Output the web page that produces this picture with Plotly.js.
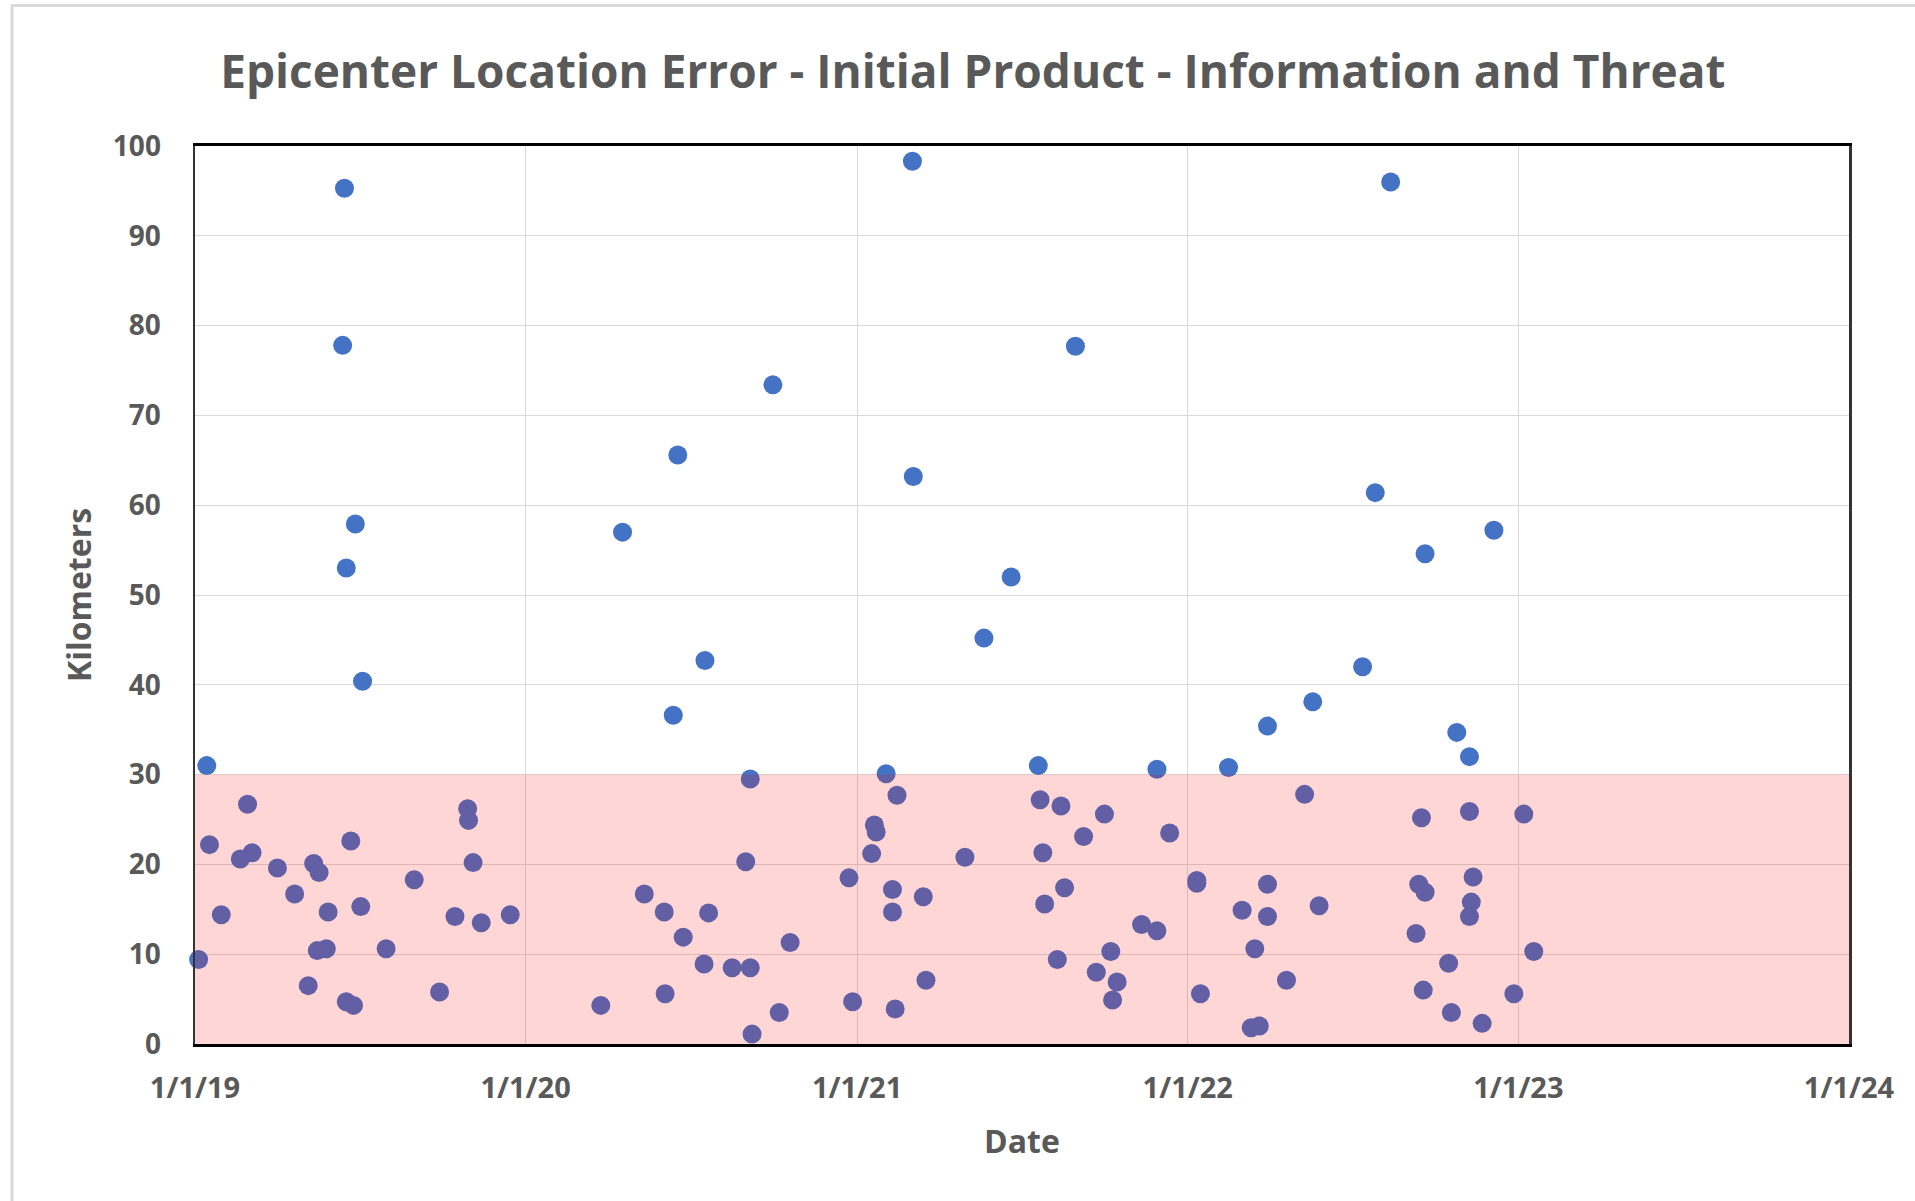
<!DOCTYPE html>
<html>
<head>
<meta charset="utf-8">
<script src="https://cdn.plot.ly/plotly-3.0.1.min.js"></script>
<style>
  html, body { margin: 0; padding: 0; background: #ffffff; }
  #chart { width: 1915px; height: 1201px; }
</style>
</head>
<body>
<div id="chart"></div>
<script>
// ---- Data ----
const eventDates = [
  "2019-01-05","2019-01-14","2019-01-17","2019-01-30","2019-02-20","2019-02-28","2019-03-05","2019-04-02",
  "2019-04-21","2019-05-06","2019-05-12","2019-05-16","2019-05-18","2019-05-26","2019-05-28","2019-06-13",
  "2019-06-15","2019-06-17","2019-06-17","2019-06-22","2019-06-25","2019-06-27","2019-07-03","2019-07-05",
  "2019-07-31","2019-08-31","2019-09-28","2019-10-15","2019-10-29","2019-10-30","2019-11-04","2019-11-13",
  "2019-12-15",
  "2020-03-24","2020-04-17","2020-05-11","2020-06-02","2020-06-03","2020-06-12","2020-06-17","2020-06-23",
  "2020-07-16","2020-07-17","2020-07-21","2020-08-16","2020-08-31","2020-09-05","2020-09-05","2020-09-07",
  "2020-09-30","2020-10-07","2020-10-19","2020-12-23","2020-12-27",
  "2021-01-17","2021-01-20","2021-01-22","2021-02-02","2021-02-09","2021-02-09","2021-02-12","2021-02-14",
  "2021-03-03","2021-03-04","2021-03-15","2021-03-18","2021-04-30","2021-05-21","2021-06-20","2021-07-20",
  "2021-07-22","2021-07-25","2021-07-27","2021-08-10","2021-08-14","2021-08-18","2021-08-30","2021-09-08",
  "2021-09-22","2021-10-01","2021-10-08","2021-10-10","2021-10-15","2021-11-11","2021-11-28","2021-11-28",
  "2021-12-12",
  "2022-01-11","2022-01-11","2022-01-15","2022-02-15","2022-03-02","2022-03-12","2022-03-16","2022-03-21",
  "2022-03-30","2022-03-30","2022-03-30","2022-04-20","2022-05-10","2022-05-19","2022-05-26","2022-07-13",
  "2022-07-27","2022-08-13","2022-09-10","2022-09-13","2022-09-16","2022-09-18","2022-09-20","2022-09-20",
  "2022-10-16","2022-10-19","2022-10-25","2022-11-08","2022-11-08","2022-11-08","2022-11-10","2022-11-12",
  "2022-11-22","2022-12-05","2022-12-27",
  "2023-01-07","2023-01-18"
];
const errorKm = [
  9.4, 31.0, 22.2, 14.4, 20.6, 26.7, 21.3, 19.6,
  16.7, 6.5, 20.1, 10.4, 19.1, 10.6, 14.7, 77.8,
  95.3, 53.0, 4.7, 22.6, 4.3, 57.9, 15.3, 40.4,
  10.6, 18.3, 5.8, 14.2, 26.2, 24.9, 20.2, 13.5,
  14.4,
  4.3, 57.0, 16.7, 14.7, 5.6, 36.6, 65.6, 11.9,
  8.9, 42.7, 14.6, 8.5, 20.3, 29.5, 8.5, 1.1,
  73.4, 3.5, 11.3, 18.5, 4.7,
  21.2, 24.4, 23.6, 30.1, 17.2, 14.7, 3.9, 27.7,
  98.3, 63.2, 16.4, 7.1, 20.8, 45.2, 52.0, 31.0,
  27.2, 21.3, 15.6, 9.4, 26.5, 17.4, 77.7, 23.1,
  8.0, 25.6, 10.3, 4.9, 6.9, 13.3, 30.6, 12.6,
  23.5,
  18.2, 17.9, 5.6, 30.8, 14.9, 1.8, 10.6, 2.0,
  35.4, 17.8, 14.2, 7.1, 27.8, 38.1, 15.4, 42.0,
  61.4, 96.0, 12.3, 17.8, 25.2, 6.0, 54.6, 16.9,
  9.0, 3.5, 34.7, 32.0, 25.9, 14.2, 15.8, 18.6,
  2.3, 57.2, 5.6,
  25.6, 10.3
];
const xTickVals = ["2019-01-01","2020-01-01","2021-01-01","2022-01-01","2023-01-01","2024-01-01"];
const xTickText = ["1/1/19","1/1/20","1/1/21","1/1/22","1/1/23","1/1/24"];
const yTickVals = [0,10,20,30,40,50,60,70,80,90,100];
const thresholdKm = 30;
const xRange = ["2019-01-01","2024-01-01"];
const yRange = [0, 100];

// ---- Chart ----
const FONT = "'Open Sans', 'Noto Sans', sans-serif";
const GREY = "#595959";

const trace = {
  type: "scatter",
  mode: "markers",
  x: eventDates,
  y: errorKm,
  cliponaxis: false,
  marker: { color: "#4472C4", size: 19, line: { width: 0 } },
  hoverinfo: "x+y",
  showlegend: false
};

const layout = {
  width: 1915,
  height: 1201,
  margin: { l: 195, r: 66, t: 146, b: 157, pad: 0 },
  paper_bgcolor: "#ffffff",
  plot_bgcolor: "#ffffff",
  font: { family: FONT, color: GREY },
  title: {
    text: "Epicenter Location Error - Initial Product - Information and Threat",
    font: { family: FONT, size: 46, color: GREY, weight: "bold" },
    xref: "container", yref: "container",
    x: 0.508, xanchor: "center",
    y: 0.94, yanchor: "middle"
  },
  xaxis: {
    type: "date",
    range: xRange,
    tickvals: xTickVals,
    ticktext: xTickText,
    ticks: "",
    ticklabelstandoff: 16,
    tickfont: { family: FONT, size: 29, color: GREY, weight: "bold" },
    showgrid: true,
    gridcolor: "#d9d9d9",
    gridwidth: 1,
    showline: true,
    linecolor: "#000000",
    linewidth: 3,
    mirror: true,
    zeroline: false,
    title: { text: "Date", font: { family: FONT, size: 32, color: GREY, weight: "bold" }, standoff: 26 }
  },
  yaxis: {
    range: yRange,
    tickvals: yTickVals,
    ticks: "",
    ticklabelstandoff: 26,
    tickfont: { family: FONT, size: 28, color: GREY, weight: "bold" },
    showgrid: true,
    gridcolor: "#d9d9d9",
    gridwidth: 1,
    showline: true,
    linecolor: "#333333",
    linewidth: 2.5,
    mirror: true,
    zeroline: false,
    title: { text: "Kilometers", font: { family: FONT, size: 32, color: GREY, weight: "bold" }, standoff: 12 }
  },
  shapes: [
    {
      type: "rect", layer: "above",
      xref: "paper", yref: "y",
      x0: 0, x1: 1, y0: yRange[0], y1: thresholdKm,
      fillcolor: "rgba(255,0,0,0.16)",
      line: { width: 0 }
    },
    {
      type: "rect", layer: "below",
      xref: "paper", yref: "paper",
      x0: -0.1106, x1: 1.06, y0: -0.25, y1: 1.1565,
      fillcolor: "rgba(0,0,0,0)",
      line: { color: "#d9d9d9", width: 3 }
    }
  ]
};

Plotly.newPlot("chart", [trace], layout, { displayModeBar: false, staticPlot: true });
</script>
</body>
</html>
